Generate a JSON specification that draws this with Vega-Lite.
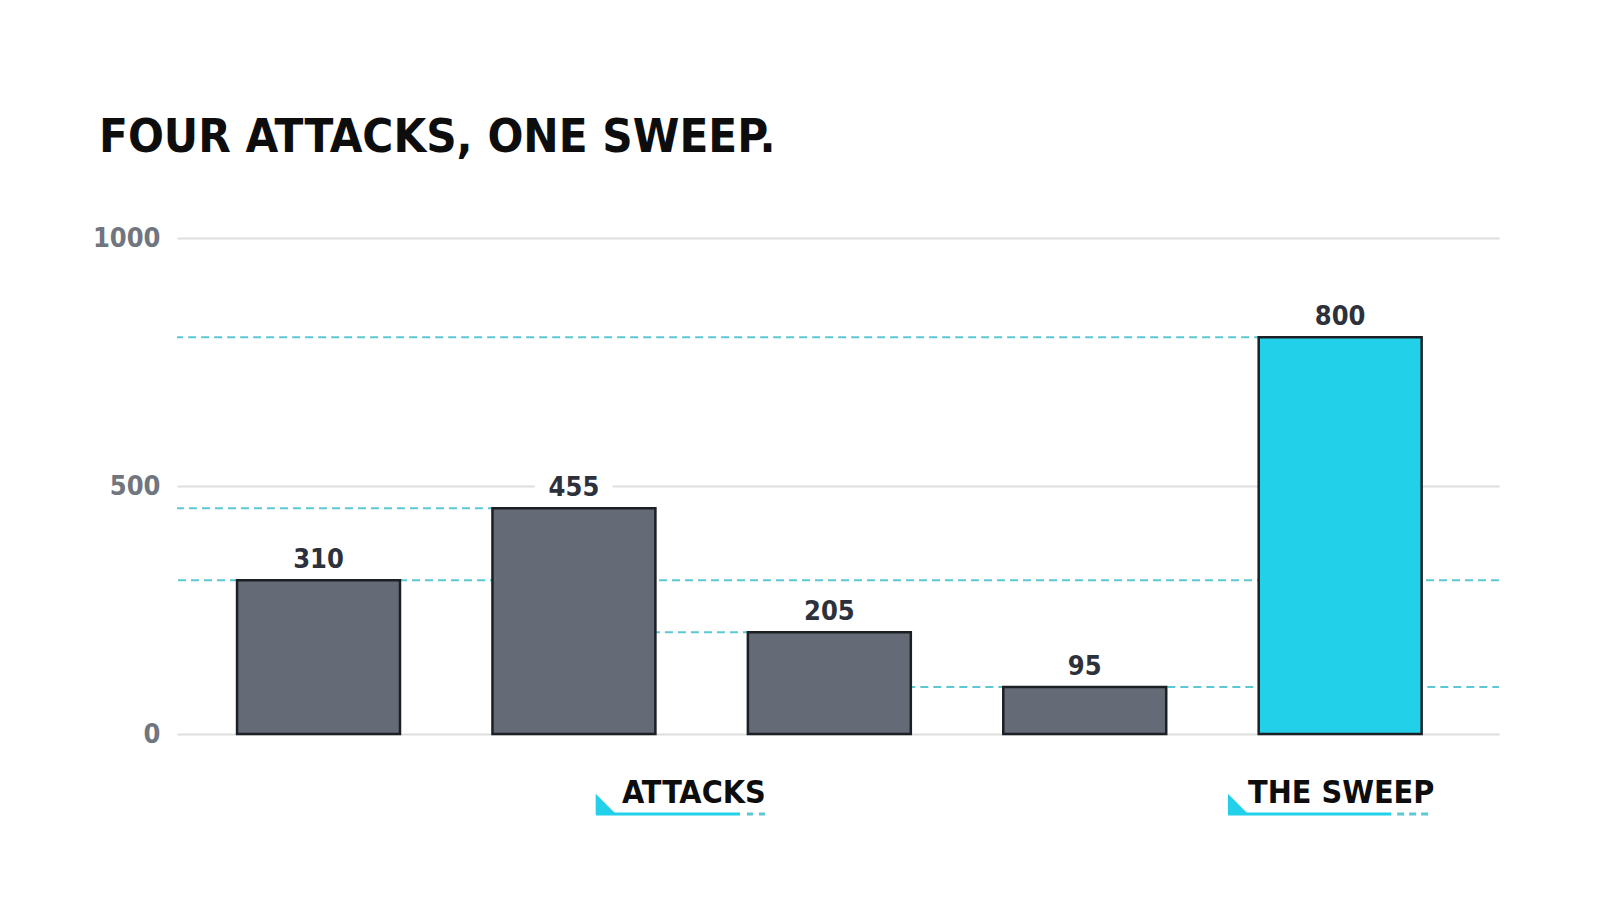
{
  "$schema": "https://vega.github.io/schema/vega-lite/v6.json",
  "autosize": {"type": "none"},
  "width": 1322,
  "height": 496,
  "padding": {"left": 177, "top": 238, "right": 101, "bottom": 180},
  "background": "white",
  "title": {
    "text": "FOUR ATTACKS, ONE SWEEP.",
    "anchor": "start",
    "frame": "group",
    "dx": -78,
    "offset": 25,
    "baseline": "alphabetic",
    "font": "DejaVu Sans Condensed, sans-serif",
    "fontSize": 47,
    "fontWeight": "bold",
    "color": "#0d0d0d"
  },
  "config": {
    "view": {"stroke": null},
    "font": "DejaVu Sans Condensed, sans-serif"
  },
  "datasets": {
    "bars": [
      {"slot": "Attack 1", "kind": "attack", "value": 310},
      {"slot": "Attack 2", "kind": "attack", "value": 455},
      {"slot": "Attack 3", "kind": "attack", "value": 205},
      {"slot": "Attack 4", "kind": "attack", "value": 95},
      {"slot": "The Sweep", "kind": "sweep", "value": 800}
    ],
    "guides": [
      {"value": 800, "from": null, "to": "The Sweep"},
      {"value": 455, "from": null, "to": "Attack 2"},
      {"value": 310, "from": null, "to": null},
      {"value": 205, "from": "Attack 2", "to": "Attack 3"},
      {"value": 95, "from": "Attack 3", "to": null}
    ],
    "notes": [
      {"label": "ATTACKS", "anchor": "Attack 2", "value": 0},
      {"label": "THE SWEEP", "anchor": "The Sweep", "value": 0}
    ]
  },
  "encoding": {
    "y": {
      "field": "value",
      "type": "quantitative",
      "title": null,
      "scale": {"domain": [0, 1000], "nice": false},
      "axis": {
        "values": [0, 500, 1000],
        "format": "d",
        "ticks": false,
        "domain": false,
        "grid": true,
        "gridColor": "#dedede",
        "gridWidth": 2,
        "labelFontSize": 27,
        "labelFontWeight": "bold",
        "labelColor": "#70757e",
        "labelPadding": 17
      }
    }
  },
  "layer": [
    {
      "data": {"name": "guides"},
      "transform": [{"filter": "!datum.from && !datum.to"}],
      "mark": {"type": "rule", "color": "#5cc8d2", "strokeWidth": 2, "strokeDash": [8, 5]},
      "encoding": {}
    },
    {
      "data": {"name": "guides"},
      "transform": [{"filter": "!datum.from && datum.to"}],
      "mark": {"type": "rule", "color": "#5cc8d2", "strokeWidth": 2, "strokeDash": [8, 5]},
      "encoding": {
        "x": {"field": "to", "type": "nominal", "axis": null},
        "x2": {"value": 0}
      }
    },
    {
      "data": {"name": "guides"},
      "transform": [{"filter": "datum.from && !datum.to"}],
      "mark": {"type": "rule", "color": "#5cc8d2", "strokeWidth": 2, "strokeDash": [8, 5]},
      "encoding": {
        "x": {"field": "from", "type": "nominal", "axis": null},
        "x2": {"value": "width"}
      }
    },
    {
      "data": {"name": "guides"},
      "transform": [{"filter": "datum.from && datum.to"}],
      "mark": {"type": "rule", "color": "#5cc8d2", "strokeWidth": 2, "strokeDash": [8, 5]},
      "encoding": {
        "x": {"field": "from", "type": "nominal", "axis": null},
        "x2": {"field": "to"}
      }
    },
    {
      "data": {"name": "bars"},
      "mark": {"type": "text", "baseline": "alphabetic", "dy": -12, "fontSize": 27, "fontWeight": "bold", "fill": "white", "stroke": "white", "strokeWidth": 30, "strokeJoin": "round"},
      "encoding": {
        "x": {"field": "slot", "type": "nominal", "axis": null},
        "text": {"field": "value", "type": "quantitative"}
      }
    },
    {
      "data": {"name": "bars"},
      "mark": {"type": "bar", "stroke": "#1c1f24", "strokeWidth": 2.5},
      "encoding": {
        "x": {
          "field": "slot",
          "type": "nominal",
          "axis": null,
          "scale": {
            "domain": ["Attack 1", "Attack 2", "Attack 3", "Attack 4", "The Sweep"],
            "paddingInner": 0.362,
            "paddingOuter": 0.269,
            "align": 0.437
          }
        },
        "color": {
          "field": "kind",
          "type": "nominal",
          "legend": null,
          "scale": {"domain": ["attack", "sweep"], "range": ["#646b77", "#22d0e9"]}
        }
      }
    },
    {
      "data": {"name": "bars"},
      "mark": {"type": "text", "baseline": "alphabetic", "dy": -12, "fontSize": 27, "fontWeight": "bold", "color": "#2c313b"},
      "encoding": {
        "x": {"field": "slot", "type": "nominal", "axis": null},
        "text": {"field": "value", "type": "quantitative"}
      }
    },
    {
      "data": {"name": "notes"},
      "transform": [{"filter": "datum.label == 'ATTACKS'"}],
      "mark": {"type": "text", "align": "center", "baseline": "alphabetic", "fontSize": 32, "fontWeight": "bold", "color": "#0d0d0d", "xOffset": 120, "yOffset": 69},
      "encoding": {
        "x": {"field": "anchor", "type": "nominal", "axis": null},
        "text": {"field": "label"}
      }
    },
    {
      "data": {"name": "notes"},
      "transform": [{"filter": "datum.label == 'ATTACKS'"}],
      "mark": {"type": "point", "shape": "M -1 -1 L -1 1 L 1 1 Z", "filled": true, "opacity": 1, "color": "#22d0e9", "size": 420, "strokeWidth": 0, "xOffset": 32, "yOffset": 70},
      "encoding": {
        "x": {"field": "anchor", "type": "nominal", "axis": null}
      }
    },
    {
      "data": {"name": "notes"},
      "transform": [{"filter": "datum.label == 'ATTACKS'"}],
      "mark": {"type": "rule", "color": "#22d0e9", "strokeWidth": 3, "xOffset": 22, "x2Offset": 166, "yOffset": 80},
      "encoding": {
        "x": {"field": "anchor", "type": "nominal", "axis": null},
        "x2": {"field": "anchor"}
      }
    },
    {
      "data": {"name": "notes"},
      "transform": [{"filter": "datum.label == 'ATTACKS'"}],
      "mark": {"type": "rule", "color": "#5cc8d2", "strokeWidth": 3, "strokeDash": [6, 6], "xOffset": 173, "x2Offset": 191, "yOffset": 80},
      "encoding": {
        "x": {"field": "anchor", "type": "nominal", "axis": null},
        "x2": {"field": "anchor"}
      }
    },
    {
      "data": {"name": "notes"},
      "transform": [{"filter": "datum.label == 'THE SWEEP'"}],
      "mark": {"type": "text", "align": "center", "baseline": "alphabetic", "fontSize": 32, "fontWeight": "bold", "color": "#0d0d0d", "xOffset": 1, "yOffset": 69},
      "encoding": {
        "x": {"field": "anchor", "type": "nominal", "axis": null},
        "text": {"field": "label"}
      }
    },
    {
      "data": {"name": "notes"},
      "transform": [{"filter": "datum.label == 'THE SWEEP'"}],
      "mark": {"type": "point", "shape": "M -1 -1 L -1 1 L 1 1 Z", "filled": true, "opacity": 1, "color": "#22d0e9", "size": 420, "strokeWidth": 0, "xOffset": -102, "yOffset": 70},
      "encoding": {
        "x": {"field": "anchor", "type": "nominal", "axis": null}
      }
    },
    {
      "data": {"name": "notes"},
      "transform": [{"filter": "datum.label == 'THE SWEEP'"}],
      "mark": {"type": "rule", "color": "#22d0e9", "strokeWidth": 3, "xOffset": -112, "x2Offset": 51, "yOffset": 80},
      "encoding": {
        "x": {"field": "anchor", "type": "nominal", "axis": null},
        "x2": {"field": "anchor"}
      }
    },
    {
      "data": {"name": "notes"},
      "transform": [{"filter": "datum.label == 'THE SWEEP'"}],
      "mark": {"type": "rule", "color": "#5cc8d2", "strokeWidth": 3, "strokeDash": [7, 5], "xOffset": 57, "x2Offset": 88, "yOffset": 80},
      "encoding": {
        "x": {"field": "anchor", "type": "nominal", "axis": null},
        "x2": {"field": "anchor"}
      }
    }
  ]
}
